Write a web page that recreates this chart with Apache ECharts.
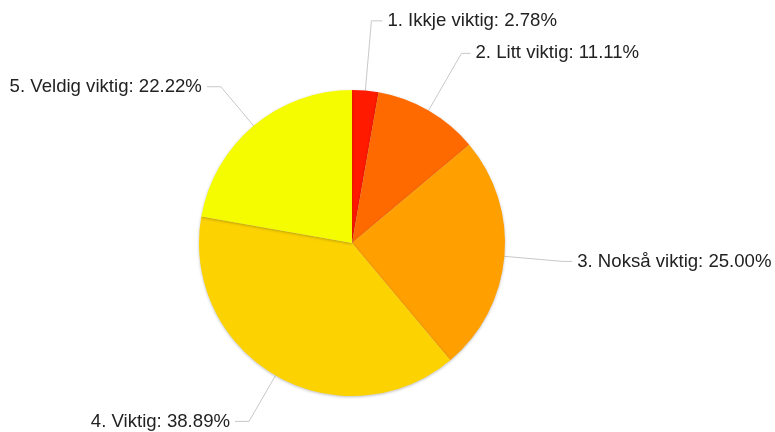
<!DOCTYPE html>
<html>
<head>
<meta charset="utf-8">
<script src="https://cdn.jsdelivr.net/npm/echarts@6/dist/echarts.min.js"></script>
<style>
  html, body { margin: 0; padding: 0; background: #fff; }
  #chart { width: 775px; height: 432px; }
</style>
</head>
<body>
<div id="chart"></div>
<script>
const categories = ["1. Ikkje viktig", "2. Litt viktig", "3. Nokså viktig", "4. Viktig", "5. Veldig viktig"];
const counts = [1, 4, 9, 14, 8];
const colors = ["#ff1a00", "#ff6a00", "#ff9f00", "#fcd300", "#f6fc00"];
const lineLengths = [70, 66, 58, 53, 51];
const lineLengths2 = [11, 9, 10, 14, 14];

const chart = echarts.init(document.getElementById("chart"));

const data = categories.map((name, i) => ({
  name: name,
  value: counts[i],
  itemStyle: { color: colors[i] },
  labelLine: { length: lineLengths[i], length2: lineLengths2[i] }
}));

chart.setOption({
  animation: false,
  series: [
    {
      type: "pie",
      center: [352, 243],
      radius: 153,
      startAngle: 90,
      clockwise: true,
      avoidLabelOverlap: false,
      data: data,
      itemStyle: {
        borderWidth: 0,
        shadowColor: "rgba(0,0,0,0.25)",
        shadowBlur: 3,
        shadowOffsetY: 1
      },
      label: {
        show: true,
        position: "outside",
        fontFamily: "Liberation Sans",
        fontSize: 18.6,
        color: "#222",
        distanceToLabelLine: 5,
        formatter: (p) => p.name + ": " + p.percent.toFixed(2) + "%"
      },
      labelLine: {
        show: true,
        smooth: false,
        lineStyle: { color: "#c8c8c8", width: 1 }
      },
      emphasis: { disabled: true }
    }
  ]
});
</script>
</body>
</html>
